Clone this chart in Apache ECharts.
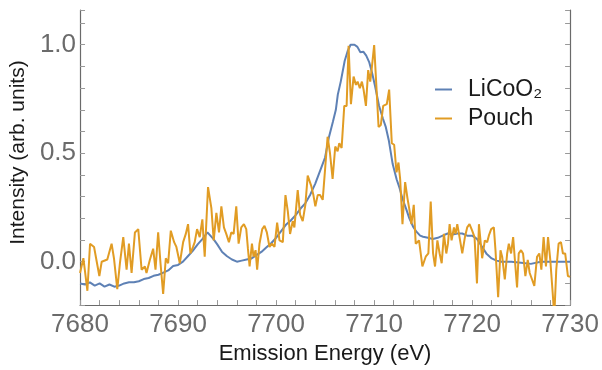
<!DOCTYPE html>
<html>
<head>
<meta charset="utf-8">
<script src="https://cdn.jsdelivr.net/npm/echarts@6/dist/echarts.min.js"></script>
<style>
html,body{margin:0;padding:0;background:#fff;}
#chart{width:602px;height:370px;}
</style>
</head>
<body>
<div id="chart"></div>
<script>
// ---- data ----
const seriesNames = ['LiCoO₂', 'Pouch'];
const xTickLabels = ['7680', '7690', '7700', '7710', '7720', '7730'];
const yTickLabels = ['0.0', '0.5', '1.0'];

const licoE = [7680.0,7680.5,7681.0,7681.5,7682.0,7682.5,7683.0,7683.5,7684.0,7684.5,7685.0,7685.5,7686.0,7686.5,7687.0,7687.5,7688.0,7688.5,7689.0,7689.5,7690.0,7690.5,7691.0,7691.5,7692.0,7692.5,7693.0,7693.3,7693.6,7694.0,7694.5,7695.0,7695.5,7696.0,7696.5,7697.0,7697.5,7698.0,7698.5,7699.0,7699.5,7700.0,7700.5,7701.0,7701.5,7702.0,7702.5,7703.0,7703.5,7704.0,7704.5,7705.0,7705.4,7705.8,7706.1,7706.3,7706.6,7707.0,7707.3,7707.6,7707.8,7708.0,7708.3,7708.6,7708.9,7709.2,7709.5,7709.8,7710.1,7710.5,7710.9,7711.2,7711.5,7711.9,7712.3,7712.6,7712.9,7713.3,7713.6,7714.0,7714.3,7714.7,7715.0,7715.5,7716.0,7716.5,7717.0,7717.5,7718.0,7718.5,7719.0,7719.5,7720.0,7720.5,7721.0,7721.5,7722.0,7722.5,7723.0,7724.0,7725.0,7726.0,7727.0,7728.0,7729.0,7730.0];
const licoI = [-0.10,-0.105,-0.095,-0.11,-0.10,-0.115,-0.105,-0.115,-0.11,-0.10,-0.095,-0.095,-0.09,-0.08,-0.075,-0.065,-0.06,-0.05,-0.04,-0.02,-0.015,0.0,0.025,0.05,0.08,0.105,0.135,0.12,0.105,0.08,0.045,0.025,0.01,0.0,0.005,0.01,0.015,0.03,0.045,0.065,0.085,0.11,0.14,0.17,0.19,0.215,0.245,0.27,0.31,0.36,0.42,0.48,0.575,0.645,0.70,0.77,0.83,0.925,0.97,1.0,0.995,1.0,0.99,0.965,0.968,0.95,0.92,0.87,0.81,0.72,0.66,0.62,0.56,0.45,0.38,0.34,0.29,0.24,0.20,0.16,0.14,0.12,0.115,0.11,0.105,0.11,0.12,0.13,0.125,0.13,0.13,0.12,0.12,0.105,0.07,0.035,0.015,0.005,0.0,0.0,-0.005,-0.01,0.0,0.0,0.0,0.0];

const pouchE = [7680.0,7680.34,7680.75,7681.02,7681.43,7681.97,7682.21,7682.78,7683.22,7683.46,7683.8,7684.07,7684.41,7684.75,7684.99,7685.26,7685.6,7685.94,7686.28,7686.62,7686.78,7687.12,7687.46,7687.7,7687.97,7688.21,7688.48,7688.75,7688.99,7689.26,7689.6,7689.83,
7690.18,7690.52,7690.79,7691.02,7691.26,7691.53,7691.7,7691.94,7692.21,7692.48,7692.72,7693.06,7693.4,7693.64,7693.91,7694.18,7694.42,7694.68,7694.92,7695.19,7695.43,7695.67,7695.94,7696.18,7696.45,7696.72,7696.96,7697.13,7697.3,7697.54,7697.7,7697.91,7698.07,7698.31,7698.59,7698.82,7699.06,7699.33,7699.57,7699.84,7700.11,
7700.35,7700.69,7700.96,7701.2,7701.43,7701.7,7701.87,7702.21,7702.45,7702.72,7702.99,7703.23,7703.57,7703.81,7704.01,7704.25,7704.49,7704.76,7705.03,7705.26,7705.5,7705.77,7706.04,7706.28,7706.45,7706.69,7706.96,7707.2,7707.4,7707.64,7707.91,7708.15,7708.32,7708.55,7708.76,7708.93,7709.17,7709.4,7709.61,7709.78,7710.01,
7710.46,7710.69,7710.93,7711.13,7711.3,7711.54,7711.81,7712.05,7712.29,7712.49,7712.66,7712.9,7713.17,7713.41,7713.58,7713.81,7714.05,7714.25,7714.59,7714.93,7715.27,7715.54,7715.78,7716.02,7716.22,7716.46,7716.69,7716.9,7717.13,7717.37,7717.54,7717.71,7717.91,7718.15,7718.32,7718.49,7718.72,7719.0,7719.27,7719.5,7719.74,7720.01,7720.25,7720.5,
7720.7,7721.03,7721.3,7721.54,7721.71,7721.95,7722.22,7722.39,7722.66,7722.9,7723.07,7723.34,7723.58,7723.75,7723.98,7724.19,7724.42,7724.59,7724.76,7725.0,7725.2,7725.44,7725.68,7725.88,7726.12,7726.35,7726.63,7726.86,7727.07,7727.3,7727.54,7727.75,7727.98,7728.22,7728.39,7728.59,7728.83,7729.07,7729.27,7729.5,7729.78,7730.0];
const pouchI = [-0.052,0.016,-0.134,0.083,0.068,-0.066,0.0,0.01,0.083,0.016,-0.126,-0.007,0.113,-0.037,0.083,-0.052,0.135,0.15,-0.037,-0.022,-0.052,0.008,0.06,-0.037,0.135,-0.007,-0.149,0.016,-0.007,0.143,0.09,0.068,
-0.007,0.09,0.128,0.173,0.038,0.068,0.09,0.15,0.113,0.195,0.023,0.344,0.247,0.098,0.225,0.135,0.255,0.158,0.128,0.09,0.135,0.128,0.255,0.083,0.158,0.173,0.15,0.06,-0.022,0.083,0.023,0.053,-0.037,0.083,0.15,0.165,0.135,0.068,0.083,0.068,0.18,
0.098,0.09,0.307,0.232,0.128,0.187,0.158,0.33,0.217,0.187,0.262,0.397,0.352,0.307,0.255,0.307,0.307,0.285,0.442,0.576,0.501,0.382,0.531,0.509,0.546,0.524,0.718,0.718,0.995,0.726,0.853,0.815,0.83,0.8,0.83,0.793,0.718,0.883,0.83,0.898,0.998,
0.621,0.63,0.718,0.711,0.726,0.793,0.546,0.539,0.412,0.457,0.382,0.173,0.367,0.292,0.247,0.173,0.262,0.083,0.098,-0.022,0.023,0.038,0.277,0.038,-0.022,0.098,0.038,-0.007,0.128,0.038,0.083,0.173,0.098,0.158,0.128,0.173,0.113,0.038,0.113,0.158,0.173,0.143,0.113,-0.1,
0.173,0.016,0.098,0.09,0.12,0.15,0.158,0.053,-0.164,0.053,0.023,-0.082,0.038,0.083,0.038,0.113,-0.022,-0.119,0.038,0.053,0.038,-0.066,0.008,-0.052,-0.082,-0.111,0.023,0.038,-0.037,0.113,-0.022,0.113,0.008,-0.141,-0.25,-0.037,0.083,0.09,0.038,0.038,-0.066,-0.07];

// ---- build chart ----
const FONT = '"Liberation Sans", Arial, Helvetica, sans-serif';
const AXIS_COLOR = '#6a6a6a';
const TICK_COLOR = '#6b6b6b';
const BLUE = '#5E81B5';
const ORANGE = '#E19C24';

function pairs(xs, ys) { return xs.map((x, i) => [x, ys[i]]); }

const chart = echarts.init(document.getElementById('chart'), null, {renderer: 'canvas'});

const yAxisBase = {
  type: 'value', min: -0.2, max: 1.16, interval: 0.1,
  splitLine: {show: false},
  axisLine: {show: true, onZero: false, lineStyle: {color: AXIS_COLOR, width: 1.2}},
  axisTick: {show: true, inside: true, length: 5, lineStyle: {color: '#999', width: 1}}
};

chart.setOption({
  animation: false,
  backgroundColor: '#ffffff',
  grid: {left: 79, right: 31, top: 10, bottom: 57, containLabel: false},
  legend: {
    orient: 'vertical', left: 435, top: 77, padding: 0,
    icon: 'rect', itemWidth: 17, itemHeight: 2, itemGap: 4,
    textStyle: {fontFamily: FONT, fontSize: 23, color: '#1a1a1a', lineHeight: 25, padding: [0, 0, 0, 11]},
    data: seriesNames
  },
  xAxis: {
    type: 'value', min: 7680, max: 7730, interval: 2,
    name: 'Emission Energy (eV)', nameLocation: 'middle', nameGap: 34,
    nameTextStyle: {fontFamily: FONT, fontSize: 22, color: '#1a1a1a'},
    splitLine: {show: false},
    axisLine: {show: true, onZero: false, lineStyle: {color: AXIS_COLOR, width: 1.2}},
    axisTick: {show: true, inside: true, length: 5, lineStyle: {color: '#999', width: 1}},
    axisLabel: {
      margin: 7, fontFamily: FONT, fontSize: 26, color: TICK_COLOR,
      showMinLabel: true, showMaxLabel: true,
      formatter: v => { const s = String(Math.round(v)); return (Math.abs(v % 10) < 1e-6 && xTickLabels.includes(s)) ? s : ''; }
    }
  },
  yAxis: [
    Object.assign({}, yAxisBase, {
      position: 'left',
      name: 'Intensity (arb. units)', nameLocation: 'middle', nameGap: 44, nameRotate: 90,
      nameTextStyle: {fontFamily: FONT, fontSize: 21, color: '#1a1a1a', padding: [0, 0, 0, 10]},
      axisLabel: {
        margin: 4, fontFamily: FONT, fontSize: 26, color: TICK_COLOR,
        formatter: v => { const s = (Math.round(v * 10) / 10).toFixed(1); return yTickLabels.includes(s) && Math.abs(v * 2 - Math.round(v * 2)) < 1e-6 ? s : ''; }
      }
    }),
    Object.assign({}, yAxisBase, {
      position: 'right',
      axisLabel: {show: false}
    })
  ],
  series: [
    {
      name: seriesNames[0], type: 'line', data: pairs(licoE, licoI),
      showSymbol: false, symbol: 'none', clip: true,
      lineStyle: {color: BLUE, width: 2}, itemStyle: {color: BLUE},
      z: 2
    },
    {
      name: seriesNames[1], type: 'line', data: pairs(pouchE, pouchI),
      showSymbol: false, symbol: 'none', clip: true,
      lineStyle: {color: ORANGE, width: 2}, itemStyle: {color: ORANGE},
      z: 3
    }
  ]
});
</script>
</body>
</html>
